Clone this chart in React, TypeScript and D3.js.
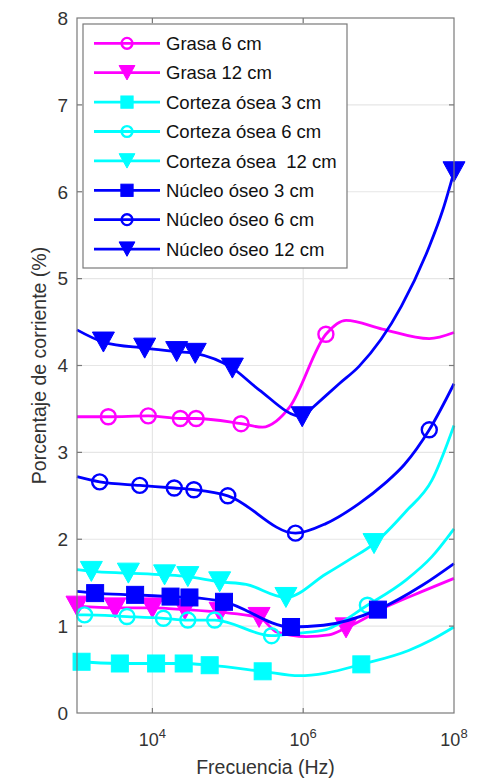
import { useRef, useEffect } from "react";
import * as d3 from "d3";

type Pt = [number, number];

// frequency (Hz), percentage of current (%)
const grasa6Line: Pt[] = [[1e3, 3.41], [2.6e3, 3.41], [8.8e3, 3.42], [2.35e4, 3.39], [3.8e4, 3.39], [1.5e5, 3.33], [2.9e5, 3.29], [4.4e5, 3.36], [6.6e5, 3.52], [2.0e6, 4.36], [3.7e6, 4.52], [1.12e7, 4.42], [4.7e7, 4.31], [1e8, 4.38]];
const grasa6Marks: Pt[] = [[2.6e3, 3.41], [8.8e3, 3.42], [2.35e4, 3.39], [3.8e4, 3.39], [1.5e5, 3.33], [2.0e6, 4.36]];

const grasa12Line: Pt[] = [[1e3, 1.23], [3.2e3, 1.21], [1e4, 1.21], [2.7e4, 1.19], [7.9e4, 1.16], [2.6e5, 1.10], [4.5e5, 0.93], [1.1e6, 0.88], [2.2e6, 0.90], [3.7e6, 0.98], [1.4e7, 1.24], [3.8e7, 1.40], [1e8, 1.55]];
const grasa12Marks: Pt[] = [[1e3, 1.23], [3.2e3, 1.21], [1e4, 1.21], [2.7e4, 1.19], [7.9e4, 1.16], [2.6e5, 1.10], [3.7e6, 0.98]];

const corteza3Line: Pt[] = [[1e3, 0.60], [1.15e3, 0.59], [3.7e3, 0.57], [1.12e4, 0.57], [2.6e4, 0.57], [5.75e4, 0.55], [2.9e5, 0.48], [8.9e5, 0.43], [2.0e6, 0.46], [5.9e6, 0.56], [2.5e7, 0.72], [5e7, 0.84], [1e8, 0.99]];
const corteza3Marks: Pt[] = [[1.15e3, 0.59], [3.7e3, 0.57], [1.12e4, 0.57], [2.6e4, 0.57], [5.75e4, 0.55], [2.9e5, 0.48], [5.9e6, 0.56]];

const corteza6Line: Pt[] = [[1e3, 1.13], [1.26e3, 1.13], [4.6e3, 1.11], [1.4e4, 1.09], [2.95e4, 1.07], [6.7e4, 1.07], [3.8e5, 0.89], [8.9e5, 0.92], [2.0e6, 0.96], [7.1e6, 1.24], [2.3e7, 1.53], [5.1e7, 1.80], [1e8, 2.12]];
const corteza6Marks: Pt[] = [[1.26e3, 1.13], [4.6e3, 1.11], [1.4e4, 1.09], [2.95e4, 1.07], [6.7e4, 1.07], [3.8e5, 0.89], [7.1e6, 1.24]];

const corteza12Line: Pt[] = [[1e3, 1.65], [1.55e3, 1.63], [4.8e3, 1.61], [1.45e4, 1.59], [2.95e4, 1.57], [7.8e4, 1.51], [1.75e5, 1.48], [5.9e5, 1.33], [2.0e6, 1.60], [4e6, 1.76], [8.7e6, 1.95], [2.3e7, 2.32], [5.1e7, 2.68], [1e8, 3.31]];
const corteza12Marks: Pt[] = [[1.55e3, 1.63], [4.8e3, 1.61], [1.45e4, 1.59], [2.95e4, 1.57], [7.8e4, 1.51], [5.9e5, 1.33], [8.7e6, 1.95]];

const nucleo3Line: Pt[] = [[1e3, 1.40], [1.74e3, 1.38], [5.9e3, 1.36], [1.74e4, 1.34], [3.1e4, 1.33], [8.9e4, 1.28], [6.9e5, 0.99], [1.86e6, 1.01], [9.8e6, 1.19], [3.8e7, 1.47], [1e8, 1.72]];
const nucleo3Marks: Pt[] = [[1.74e3, 1.38], [5.9e3, 1.36], [1.74e4, 1.34], [3.1e4, 1.33], [8.9e4, 1.28], [6.9e5, 0.99], [9.8e6, 1.19]];

const nucleo6Line: Pt[] = [[1e3, 2.72], [2.0e3, 2.66], [6.8e3, 2.62], [1.95e4, 2.59], [3.55e4, 2.57], [1e5, 2.50], [7.9e5, 2.07], [2.0e6, 2.18], [5.5e6, 2.41], [1.2e7, 2.64], [2.2e7, 2.86], [4.7e7, 3.26], [1e8, 3.79]];
const nucleo6Marks: Pt[] = [[2.0e3, 2.66], [6.8e3, 2.62], [1.95e4, 2.59], [3.55e4, 2.57], [1e5, 2.50], [7.9e5, 2.07], [4.7e7, 3.26]];

const nucleo12Line: Pt[] = [[1e3, 4.41], [2.24e3, 4.27], [7.9e3, 4.20], [2.1e4, 4.16], [3.7e4, 4.14], [1.15e5, 3.97], [2.6e5, 3.72], [9.7e5, 3.41], [1.35e6, 3.52], [3.0e6, 3.79], [5.5e6, 3.99], [2.0e7, 4.68], [4.7e7, 5.37], [7.1e7, 5.79], [1e8, 6.23]];
const nucleo12Marks: Pt[] = [[2.24e3, 4.27], [7.9e3, 4.20], [2.1e4, 4.16], [3.7e4, 4.14], [1.15e5, 3.97], [9.7e5, 3.41], [1e8, 6.23]];

const xTicks = [1e4, 1e6, 1e8];
const xTickExp = ["4", "6", "8"];
const yTicks = [0, 1, 2, 3, 4, 5, 6, 7, 8];

const MAGENTA = "#ff00ff";
const CYAN = "#00ffff";
const BLUE = "#0000ff";

const series = [
  { name: "Grasa 6 cm", color: MAGENTA, marker: "o", line: grasa6Line, marks: grasa6Marks },
  { name: "Grasa 12 cm", color: MAGENTA, marker: "v", line: grasa12Line, marks: grasa12Marks },
  { name: "Corteza ósea 3 cm", color: CYAN, marker: "s", line: corteza3Line, marks: corteza3Marks },
  { name: "Corteza ósea 6 cm", color: CYAN, marker: "o", line: corteza6Line, marks: corteza6Marks },
  { name: "Corteza ósea  12 cm", color: CYAN, marker: "v", line: corteza12Line, marks: corteza12Marks },
  { name: "Núcleo óseo 3 cm", color: BLUE, marker: "s", line: nucleo3Line, marks: nucleo3Marks },
  { name: "Núcleo óseo 6 cm", color: BLUE, marker: "o", line: nucleo6Line, marks: nucleo6Marks },
  { name: "Núcleo óseo 12 cm", color: BLUE, marker: "v", line: nucleo12Line, marks: nucleo12Marks },
];

const FONT = "'Liberation Sans', Arial, Helvetica, sans-serif";
const TEXT = "#333";
const AXIS = "#7a7a7a";

function drawMarker(g: any, kind: string, color: string, cx: number, cy: number, k = 1) {
  if (kind === "o") {
    g.append("circle").attr("cx", cx).attr("cy", cy).attr("r", 7.5 * k)
      .attr("fill", "none").attr("stroke", color).attr("stroke-width", 2.4);
  } else if (kind === "s") {
    const s = 17 * k;
    g.append("rect").attr("x", cx - s / 2).attr("y", cy - s / 2).attr("width", s).attr("height", s)
      .attr("fill", color).attr("stroke", color).attr("stroke-width", 1);
  } else {
    const w = 11 * k, h = 10 * k;
    g.append("path")
      .attr("d", `M${cx - w},${cy - h}L${cx + w},${cy - h}L${cx},${cy + h}Z`)
      .attr("fill", color).attr("stroke", color).attr("stroke-width", 1);
  }
}

export default function App() {
  const svgRef = useRef<SVGSVGElement>(null);

  useEffect(() => {
    if (!svgRef.current) return;
    const svg = d3.select(svgRef.current);
    svg.selectAll("*").remove();

    const left = 77, right = 454, top = 18, bottom = 713;
    const x = d3.scaleLog().domain([1e3, 1e8]).range([left, right]);
    const y = d3.scaleLinear().domain([0, 8]).range([bottom, top]);

    svg.append("rect").attr("width", 490).attr("height", 778).attr("fill", "#fff");

    // grid
    const grid = svg.append("g").attr("stroke", "#e6e6e6").attr("stroke-width", 1.2);
    yTicks.slice(1, -1).forEach(t => {
      grid.append("line").attr("x1", left).attr("x2", right).attr("y1", y(t)).attr("y2", y(t));
    });
    xTicks.slice(0, -1).forEach(t => {
      grid.append("line").attr("x1", x(t)).attr("x2", x(t)).attr("y1", top).attr("y2", bottom);
    });

    // series
    const line = d3.line<Pt>().x(d => x(d[0])).y(d => y(d[1])).curve(d3.curveMonotoneX);
    series.forEach(s => {
      const g = svg.append("g");
      g.append("path").datum(s.line).attr("fill", "none").attr("stroke", s.color)
        .attr("stroke-width", 2.8).attr("stroke-linejoin", "round").attr("d", line);
      s.marks.forEach(d => drawMarker(g, s.marker, s.color, x(d[0]), y(d[1])));
    });

    // axes box + ticks
    const ax = svg.append("g").attr("stroke", AXIS).attr("stroke-width", 1.2).attr("fill", "none");
    ax.append("rect").attr("x", left).attr("y", top).attr("width", right - left).attr("height", bottom - top);
    yTicks.slice(1, -1).forEach(t => {
      ax.append("line").attr("x1", left).attr("x2", left + 5).attr("y1", y(t)).attr("y2", y(t));
      ax.append("line").attr("x1", right).attr("x2", right - 5).attr("y1", y(t)).attr("y2", y(t));
    });
    xTicks.slice(0, -1).forEach(t => {
      ax.append("line").attr("x1", x(t)).attr("x2", x(t)).attr("y1", bottom).attr("y2", bottom - 5);
      ax.append("line").attr("x1", x(t)).attr("x2", x(t)).attr("y1", top).attr("y2", top + 5);
    });

    // tick labels
    yTicks.forEach(t => {
      svg.append("text").attr("x", left - 9).attr("y", y(t)).attr("dy", "0.36em")
        .attr("text-anchor", "end").attr("font-family", FONT).attr("font-size", 19)
        .attr("fill", TEXT).text(String(t));
    });
    xTicks.forEach((t, i) => {
      const tx = svg.append("text").attr("x", x(t)).attr("y", bottom + 33)
        .attr("text-anchor", "middle").attr("font-family", FONT).attr("font-size", 18).attr("fill", TEXT);
      tx.append("tspan").text("10");
      tx.append("tspan").attr("dy", -8).attr("font-size", 13).text(xTickExp[i]);
    });

    // axis labels
    svg.append("text").attr("x", (left + right) / 2).attr("y", 774).attr("text-anchor", "middle")
      .attr("font-family", FONT).attr("font-size", 19.5).attr("fill", TEXT).text("Frecuencia (Hz)");
    svg.append("text").attr("transform", `translate(46,${(top + bottom) / 2}) rotate(-90)`)
      .attr("text-anchor", "middle").attr("font-family", FONT).attr("font-size", 19.5)
      .attr("fill", TEXT).text("Porcentaje de corriente (%)");

    // legend
    const lg = svg.append("g");
    lg.append("rect").attr("x", 83).attr("y", 24).attr("width", 264).attr("height", 244)
      .attr("fill", "#fff").attr("stroke", AXIS).attr("stroke-width", 1.2);
    series.forEach((s, i) => {
      const ly = 43.3 + i * 29.4;
      lg.append("line").attr("x1", 94).attr("x2", 160).attr("y1", ly).attr("y2", ly)
        .attr("stroke", s.color).attr("stroke-width", 2.8);
      drawMarker(lg, s.marker, s.color, 127, ly, 0.72);
      lg.append("text").attr("x", 166).attr("y", ly).attr("dy", "0.36em")
        .attr("font-family", FONT).attr("font-size", 18.5).attr("fill", "#111")
        .attr("xml:space", "preserve").style("white-space", "pre").text(s.name);
    });
  }, []);

  return (
    <div style={{ position: "absolute", left: 0, top: 0 }}>
      <svg ref={svgRef} width={490} height={778} style={{ display: "block" }}></svg>
    </div>
  );
}
